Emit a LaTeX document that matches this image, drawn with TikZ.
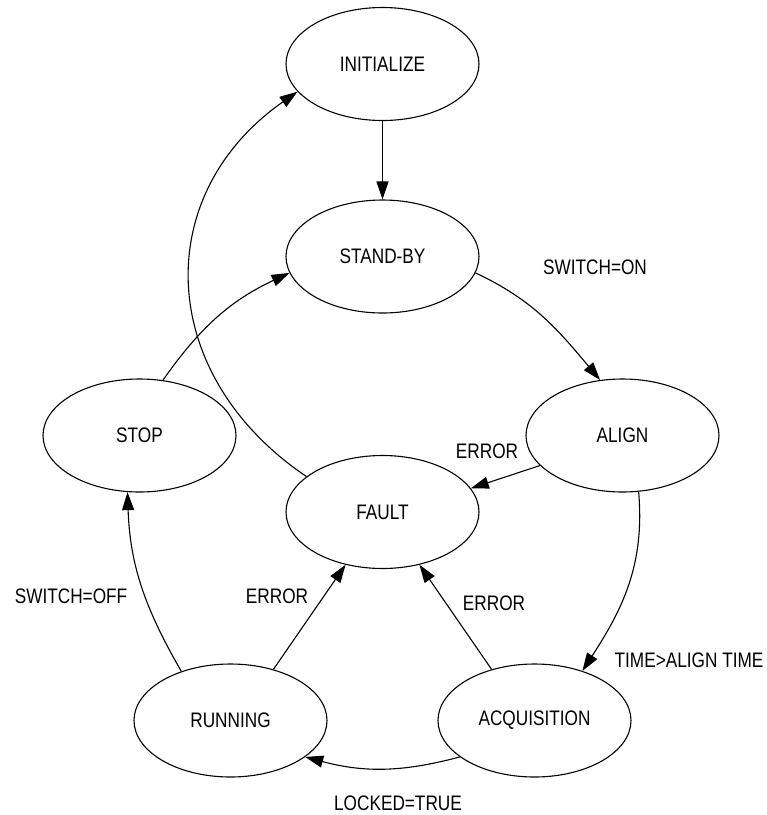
\documentclass[tikz,border=0pt]{standalone}
\usepackage{fontspec}
\setmainfont{Liberation Sans}[FakeStretch=0.82]
\usetikzlibrary{shapes.geometric,arrows.meta}
\begin{document}
\begin{tikzpicture}[x=1pt,y=1pt,line width=1.1pt,
  state/.style={ellipse,draw,minimum width=193pt,minimum height=113pt,inner sep=0pt,
    font=\fontsize{21}{24}\selectfont},
  lbl/.style={font=\fontsize{21}{24}\selectfont,inner sep=0pt},
  arr/.style={-{Triangle[length=18pt,width=12pt]}}]
\useasboundingbox (0,0) rectangle (767,-815);
\node[state] (init)  at (382.5,-64)    {INITIALIZE};
\node[state] (stand) at (382.5,-256.5) {STAND-BY};
\node[state] (align) at (622.5,-435.5) {ALIGN};
\node[state] (stop)  at (139.5,-435.5) {STOP};
\node[state] (fault) at (382.5,-512)   {FAULT};
\node[state] (run)   at (230.5,-720.5) {RUNNING};
\node[state] (acq)   at (534.5,-720.5) {ACQUISITION};

\draw[arr] (init) -- (stand);
\draw[arr] (stand.-10) to[out=-25,in=130] (align.112);
\draw[arr] (align.200) -- (fault.15);
\draw[arr] (align.286) to[out=-85,in=57] (acq.46);
\draw[arr] (acq.130) -- (fault.305);
\draw[arr] (run.50) -- (fault.235);
\draw[arr] (acq.206) to[bend left=15] (run.334);
\draw[arr] (run.135) to[out=120,in=-88] (stop.258);
\draw[arr] (stop.67) to[out=55,in=205] (stand.190);
\draw[arr] (fault.155) to[out=146,in=215,looseness=1.2] (init.198);

\node[lbl] (lon)   at (595,-267)   {SWITCH=ON};
\node[lbl] (lerr1) at (487,-451)   {ERROR};
\node[lbl] (loff)  at (71,-596)    {SWITCH=OFF};
\node[lbl] (lerr2) at (277,-596)   {ERROR};
\node[lbl] (lerr3) at (494,-603)   {ERROR};
\node[lbl] (ltime) at (689,-660)   {TIME>ALIGN TIME};
\node[lbl] (llock) at (398,-803)   {LOCKED=TRUE};
\end{tikzpicture}
\end{document}
